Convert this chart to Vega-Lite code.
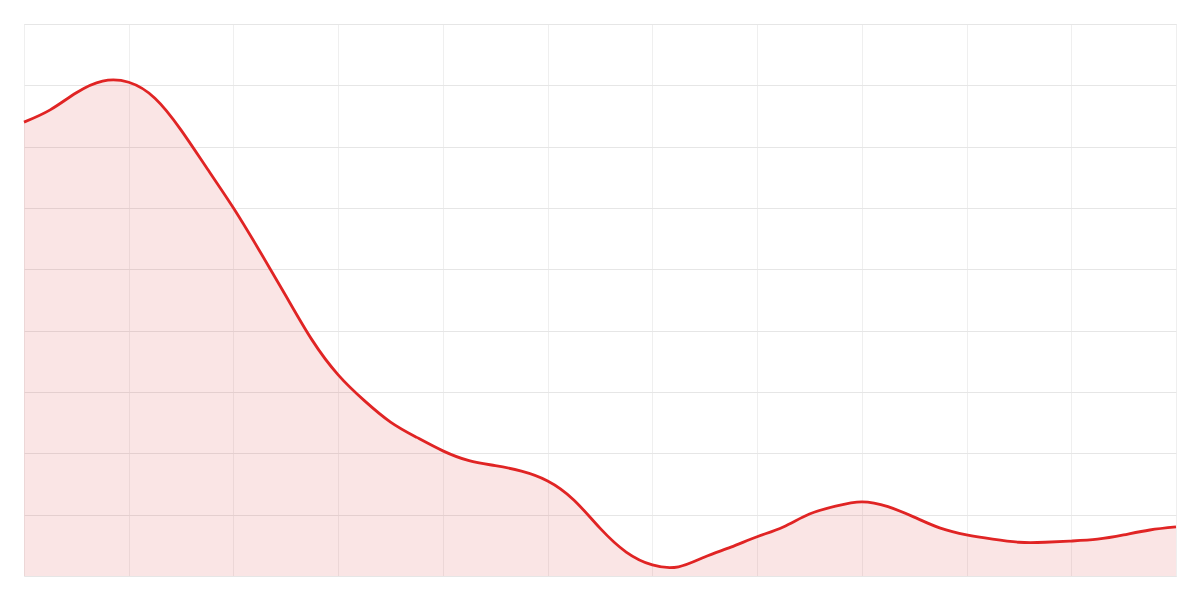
{
  "$schema": "https://vega.github.io/schema/vega-lite/v6.json",
  "autosize": "none",
  "width": 1152,
  "height": 552,
  "padding": 24,
  "background": "white",
  "config": {"view": {"stroke": "#e6e6e6"}},
  "data": {"values": [
    {"x": 0, "y": 7.40}, {"x": 0.25, "y": 7.60}, {"x": 0.5, "y": 7.88}, {"x": 0.75, "y": 8.07},
    {"x": 1.0, "y": 8.05}, {"x": 1.25, "y": 7.79}, {"x": 1.5, "y": 7.27}, {"x": 1.75, "y": 6.64},
    {"x": 2.0, "y": 6.0}, {"x": 2.25, "y": 5.30}, {"x": 2.5, "y": 4.57}, {"x": 2.75, "y": 3.85},
    {"x": 3.0, "y": 3.28}, {"x": 3.25, "y": 2.86}, {"x": 3.5, "y": 2.51}, {"x": 3.75, "y": 2.26},
    {"x": 4.0, "y": 2.04}, {"x": 4.25, "y": 1.88}, {"x": 4.5, "y": 1.80}, {"x": 4.75, "y": 1.71},
    {"x": 5.0, "y": 1.55}, {"x": 5.25, "y": 1.24}, {"x": 5.5, "y": 0.78}, {"x": 5.75, "y": 0.39},
    {"x": 6.0, "y": 0.18}, {"x": 6.25, "y": 0.15}, {"x": 6.5, "y": 0.31}, {"x": 6.75, "y": 0.47},
    {"x": 7.0, "y": 0.64}, {"x": 7.25, "y": 0.80}, {"x": 7.5, "y": 1.01}, {"x": 7.75, "y": 1.14},
    {"x": 8.0, "y": 1.21}, {"x": 8.25, "y": 1.13}, {"x": 8.5, "y": 0.96}, {"x": 8.75, "y": 0.78},
    {"x": 9.0, "y": 0.67}, {"x": 9.25, "y": 0.60}, {"x": 9.5, "y": 0.55}, {"x": 9.75, "y": 0.55},
    {"x": 10.0, "y": 0.57}, {"x": 10.25, "y": 0.60}, {"x": 10.5, "y": 0.67}, {"x": 10.75, "y": 0.75},
    {"x": 11.0, "y": 0.80}
  ]},
  "encoding": {
    "x": {"field": "x", "type": "quantitative",
      "scale": {"domain": [0, 11], "nice": false, "zero": false},
      "axis": {"values": [0,1,2,3,4,5,6,7,8,9,10,11], "labels": false, "ticks": false, "domain": false, "title": null, "grid": true, "gridColor": "#efefef"}},
    "y": {"field": "y", "type": "quantitative",
      "scale": {"domain": [0, 9], "nice": false},
      "axis": {"values": [0,1,2,3,4,5,6,7,8,9], "labels": false, "ticks": false, "domain": false, "title": null, "grid": true, "gridColor": "#e6e6e6"}}
  },
  "layer": [
    {"mark": {"type": "area", "interpolate": "natural", "color": "#d42a2a", "opacity": 0.12}},
    {"mark": {"type": "line", "interpolate": "natural", "color": "#e02424", "strokeWidth": 2.8}}
  ]
}
